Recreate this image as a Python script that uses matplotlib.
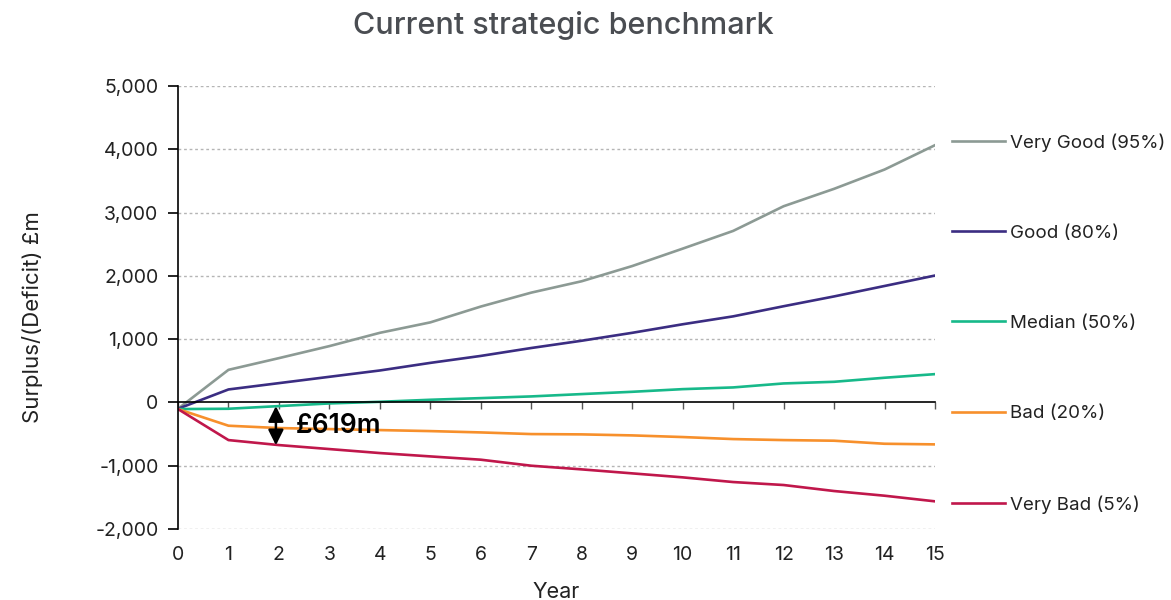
import matplotlib
matplotlib.use("Agg")
import matplotlib.pyplot as plt

plt.rcParams['font.family'] = ['Inter', 'DejaVu Sans']

years = list(range(16))
series_names = ["Very Good (95%)", "Good (80%)", "Median (50%)", "Bad (20%)", "Very Bad (5%)"]
very_good = [-100, 515, 700, 890, 1100, 1265, 1515, 1735, 1915, 2155, 2430, 2710, 3100, 3375, 3680, 4065]
good = [-100, 205, 305, 405, 505, 625, 735, 860, 975, 1100, 1235, 1360, 1520, 1675, 1840, 2005]
median = [-105, -100, -58, -16, 10, 42, 68, 95, 132, 168, 210, 237, 300, 326, 390, 447]
bad = [-105, -368, -405, -421, -437, -453, -474, -500, -505, -521, -547, -579, -595, -605, -653, -663]
very_bad = [-105, -595, -674, -737, -800, -853, -905, -1000, -1058, -1121, -1184, -1258, -1305, -1400, -1474, -1563]
colors = ["#8c9a94", "#3b2d82", "#17b98a", "#f7902c", "#c0174b"]

yticks = [-2000, -1000, 0, 1000, 2000, 3000, 4000, 5000]
ytick_labels = ["-2,000", "-1,000", "0", "1,000", "2,000", "3,000", "4,000", "5,000"]

gap_year = 1.94
gap_value = 619

fig = plt.figure(figsize=(11.71, 6.0), dpi=100)
ax = fig.add_axes([178 / 1171, 1 - 529 / 600, (935 - 178) / 1171, (529 - 86) / 600])

for name, vals, c in zip(series_names, [very_good, good, median, bad, very_bad], colors):
    ax.plot(years, vals, color=c, lw=1.9, label=name, solid_joinstyle='round')

ax.set_xlim(0, 15)
ax.set_ylim(-2000, 5000)
ax.set_yticks(yticks)
ax.set_yticklabels(ytick_labels)
ax.set_xticks(years)

# dotted grid on the value axis
for v in yticks:
    if v != 0:
        ax.axhline(v, color="#b5b5b5", lw=1.0, ls=(0, (2, 2)), zorder=0)

for s in ["top", "right"]:
    ax.spines[s].set_visible(False)
ax.spines["left"].set_color("black")
ax.spines["left"].set_linewidth(1.2)
ax.spines["bottom"].set_position(("data", 0))
ax.spines["bottom"].set_color("black")
ax.spines["bottom"].set_linewidth(1.2)
ax.tick_params(axis="x", direction="out", length=5, width=1.0, color="#555555", labelbottom=False)
ax.tick_params(axis="y", direction="out", length=7, width=1.2, labelsize=14, labelcolor="#222222", pad=7)

# year labels along the bottom edge
sec = ax.secondary_xaxis(0)
sec.set_xticks(years)
sec.set_xticklabels([str(y) for y in years])
sec.tick_params(length=0, labelsize=14, labelcolor="#222222", pad=12)
sec.spines["bottom"].set_visible(False)
sec.set_xlabel("Year", fontsize=15.5, color="#222222", labelpad=13)

fig.text(33 / 1171, 1 - 317 / 600, "Surplus/(Deficit) £m", rotation=90, fontsize=16,
         color="#222222", ha="center", va="center")

# gap between median and very bad outcomes at year 2
top_val = median[2]
ax.annotate("", xy=(gap_year, top_val - gap_value), xytext=(gap_year, top_val),
            arrowprops=dict(arrowstyle="<|-|>", color="black", lw=1.8,
                            mutation_scale=23, shrinkA=0, shrinkB=0))
ax.text(gap_year + 0.4, top_val - gap_value / 2, f"£{gap_value}m", fontsize=19,
        fontweight="semibold", color="black", va="center", ha="left")

fig.suptitle("Current strategic benchmark", x=563 / 1171, y=1 - 26 / 600, va="center",
             fontsize=22, fontweight="medium", color="#4a4d52")

leg = ax.legend(loc="upper left", bbox_to_anchor=(952 / 1171, 1 - 133 / 600),
                bbox_transform=fig.transFigure, frameon=False, fontsize=13.5,
                borderpad=0, borderaxespad=0,
                labelspacing=3.9, handlelength=2.83, handletextpad=0.27,
                labelcolor="#222222")

fig.savefig("out.png", dpi=100)
